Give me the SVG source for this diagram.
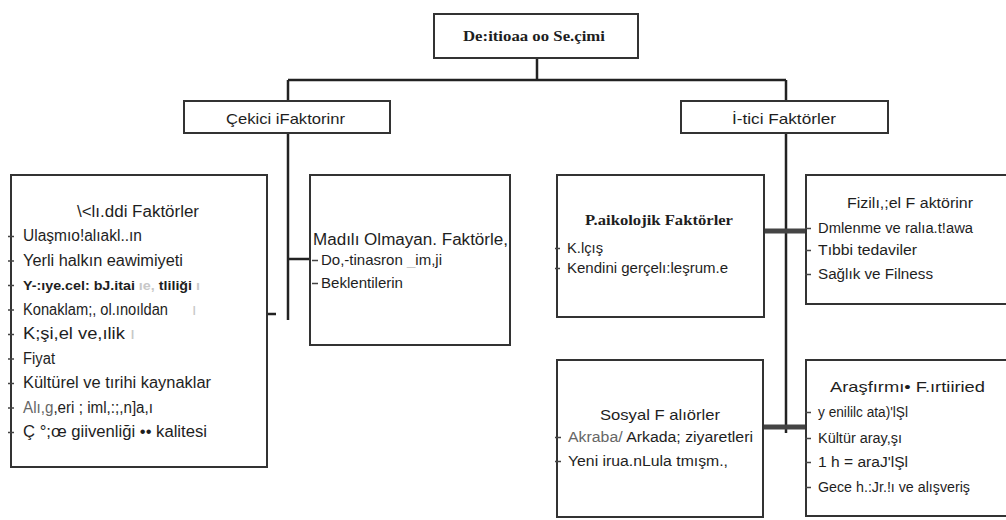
<svg xmlns="http://www.w3.org/2000/svg" width="1006" height="520" viewBox="0 0 1006 520">
<style>
.box{fill:#fff;stroke:#333;stroke-width:2}
.ln{fill:none;stroke:#222;stroke-width:2.5}
.thick{fill:none;stroke:#444;stroke-width:5}
.dash{fill:none;stroke:#444;stroke-width:1.5}
.t{font-family:"Liberation Sans",Arial,sans-serif;font-size:15px;fill:#1e1e1e}
.L{font-family:"Liberation Sans",Arial,sans-serif;font-size:16px;fill:#1e1e1e}
.s{font-family:"Liberation Sans",Arial,sans-serif;font-size:14px;fill:#1e1e1e}
.b{font-family:"Liberation Serif","Times New Roman",serif;font-weight:bold;font-size:15px;fill:#1e1e1e}
.m{font-family:"Liberation Sans",Arial,sans-serif;font-weight:bold;font-size:12.5px;fill:#1e1e1e}
.f{fill:#c8c8c8}
.g{fill:#666}
</style>
<rect width="1006" height="520" fill="#fff"/>
<g id="connectors">
<path class="ln" d="M537,58 V80 M288,80 H786 M288,80 V101 M786,80 V101"/>
<path class="ln" d="M288,133 V320 M288,259 H312 M267,314 H276"/>
<path class="ln" d="M786,133 V433"/>
<path class="thick" d="M764,231 H806 M763,427 H806"/>
</g>
<g id="root">
<rect class="box" x="434" y="14" width="204" height="44"/>
<text class="b" x="534" y="41" text-anchor="middle" textLength="142" lengthAdjust="spacingAndGlyphs">De:itioaa  oo Se.çimi</text>
</g>
<g id="cekici">
<rect class="box" x="184" y="101" width="206" height="32"/>
<text class="t" x="226" y="124" textLength="119" lengthAdjust="spacingAndGlyphs">Çekici iFaktorinr</text>
</g>
<g id="itici">
<rect class="box" x="681" y="101" width="207" height="32"/>
<text class="t" x="732" y="124" textLength="104" lengthAdjust="spacingAndGlyphs">İ-tici Faktörler</text>
</g>
<g id="maddi">
<rect class="box" x="11" y="175" width="256" height="292"/>
<text class="L" x="77" y="217" textLength="122" lengthAdjust="spacingAndGlyphs">\&lt;lı.ddi Faktörler</text>
<path class="dash" d="M8,236.5h6 M8,261h6 M8,285.5h6 M8,310h6 M8,334.5h6 M8,359h6 M8,383.5h6 M8,408h6 M8,432.5h6"/>
<text class="L" x="23" y="241" textLength="119" lengthAdjust="spacingAndGlyphs">Ulaşmıo!alıakl..ın</text>
<text class="L" x="23" y="265.5" textLength="160" lengthAdjust="spacingAndGlyphs">Yerli halkın eawimiyeti</text>
<text class="m" x="23" y="290" textLength="177" lengthAdjust="spacingAndGlyphs">Y-:ıye.cel: bJ.itai <tspan class="f">ıe,</tspan>  tliliği  <tspan class="f">ı</tspan></text>
<text class="L" x="23" y="314.5" font-size="14.5" textLength="145" lengthAdjust="spacingAndGlyphs">Konaklam;, ol.ınoıldan</text>
<text class="L f" x="192" y="314.5" font-size="14.5">ı</text>
<text class="L" x="23" y="339" textLength="112" lengthAdjust="spacingAndGlyphs">K;şi,el  ve,ılik <tspan class="f">ı</tspan></text>
<text class="L" x="23" y="363.5" textLength="32" lengthAdjust="spacingAndGlyphs">Fiyat</text>
<text class="L" x="23" y="388" textLength="188" lengthAdjust="spacingAndGlyphs">Kültürel ve tırihi kaynaklar</text>
<text class="L" x="23" y="412.5" textLength="130" lengthAdjust="spacingAndGlyphs"><tspan class="g">Alı,g</tspan>,eri ; iml,:;,n]a,ı</text>
<text class="L" x="23" y="437" textLength="184" lengthAdjust="spacingAndGlyphs">Ç °;œ giivenliği •• kalitesi</text>
</g>
<g id="madiolmayan">
<rect class="box" x="310" y="175" width="200" height="170"/>
<text class="L" x="313" y="245" textLength="195" lengthAdjust="spacingAndGlyphs">Madılı Olmayan. Faktörle,</text>
<path class="dash" d="M312,260.5h6 M312,283.5h6"/>
<text class="t" x="321" y="265" textLength="121" lengthAdjust="spacingAndGlyphs">Do,-tinasron <tspan class="f">_</tspan>im,ji</text>
<text class="t" x="321" y="288" textLength="82" lengthAdjust="spacingAndGlyphs">Beklentilerin</text>
</g>
<g id="psikolojik">
<rect class="box" x="557" y="175" width="207" height="142"/>
<text class="b" x="585" y="225" textLength="148" lengthAdjust="spacingAndGlyphs">P.aikolojik Faktörler</text>
<path class="dash" d="M555,248.5h5 M555,268.5h5"/>
<text class="t" x="567" y="253" textLength="36" lengthAdjust="spacingAndGlyphs">K.lçış</text>
<text class="s" x="567" y="273" textLength="161" lengthAdjust="spacingAndGlyphs">Kendini gerçelı:leşrum.e</text>
</g>
<g id="fizyolojik">
<rect class="box" x="806" y="175" width="210" height="129"/>
<text class="s" x="847" y="208" textLength="126" lengthAdjust="spacingAndGlyphs">Fizilı,;el F aktörinr</text>
<path class="dash" d="M805,228.5h6 M805,250.5h6 M805,274.5h6"/>
<text class="s" x="818" y="233" textLength="155" lengthAdjust="spacingAndGlyphs">Dmlenme ve ralıa.t!awa</text>
<text class="s" x="818" y="255" textLength="99" lengthAdjust="spacingAndGlyphs">Tıbbi tedaviler</text>
<text class="s" x="818" y="279" textLength="115" lengthAdjust="spacingAndGlyphs">Sağlık ve Filness</text>
</g>
<g id="sosyal">
<rect class="box" x="557" y="360" width="206" height="157"/>
<text class="t" x="600" y="420" textLength="120" lengthAdjust="spacingAndGlyphs">Sosyal F alıörler</text>
<path class="dash" d="M555,437.5h6 M555,461.5h6"/>
<text class="s" x="568" y="442" textLength="185" lengthAdjust="spacingAndGlyphs"><tspan class="g">Akraba/</tspan> Arkada; ziyaretleri</text>
<text class="s" x="568" y="466" textLength="160" lengthAdjust="spacingAndGlyphs">Yeni irua.nLula  tmışm.,</text>
</g>
<g id="arastirma">
<rect class="box" x="806" y="360" width="210" height="156"/>
<text class="t" x="830" y="392" textLength="155" lengthAdjust="spacingAndGlyphs">Araşfırmı• F.ırtiiried</text>
<path class="dash" d="M805,412.5h6 M805,438.5h6 M805,462.5h6 M805,487.5h6"/>
<text class="s" x="818" y="417" textLength="90" lengthAdjust="spacingAndGlyphs">y enililc ata)'lŞl</text>
<text class="s" x="818" y="443" textLength="84" lengthAdjust="spacingAndGlyphs">Kültür aray,şı</text>
<text class="s" x="818" y="467" textLength="90" lengthAdjust="spacingAndGlyphs">1 h =  araJ'lŞl</text>
<text class="s" x="818" y="492" textLength="152" lengthAdjust="spacingAndGlyphs">Gece h.:Jr.!ı ve alışveriş</text>
</g>
</svg>
